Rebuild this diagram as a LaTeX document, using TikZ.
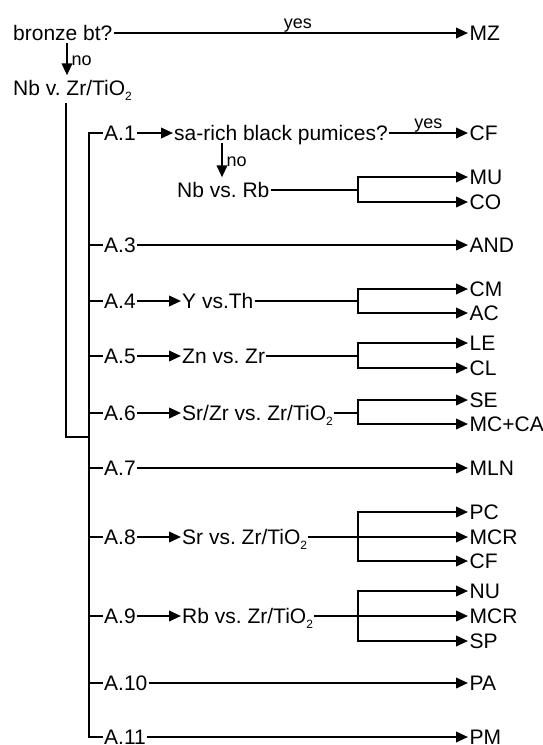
\documentclass[tikz,border=0pt]{standalone}
\usepackage{fontspec}
\setmainfont{Liberation Sans}
\usetikzlibrary{arrows.meta}
\newcommand{\lowtwo}{\raisebox{-0.45ex}{\fontsize{12}{12}\selectfont 2}}

\begin{document}
\begin{tikzpicture}[
  x=1pt,y=-1pt,
  txt/.style={anchor=west, inner sep=1pt, text height=15pt, text depth=0pt, font=\fontsize{21}{25}\selectfont\frenchspacing},
  res/.style={txt, inner sep=1.5pt},
  lbl/.style={font=\fontsize{18}{21}\selectfont, inner sep=3.5pt, text height=9.5pt, text depth=0pt},
  ln/.style={line width=2.2pt},
  arr/.style={-{Triangle[length=12pt,width=10.5pt]}, line width=2.2pt}
]
\useasboundingbox (0,0) rectangle (543,745);
% first questions
\node[txt] (bronze) at (12,33) {bronze bt?};
\node[res] (mz) at (468,33) {MZ};
\node[txt] (nbzr) at (12,88) {Nb v. Zr/TiO\lowtwo};
% groups
\node[txt] (a1) at (103,133) {A.1};
\node[txt] (sarich) at (173,133) {sa-rich black pumices?};
\node[res] (cf1) at (468,133) {CF};
\node[txt] (nbrb) at (176,190) {Nb vs. Rb};
\node[res] (mu) at (468,177) {MU};
\node[res] (co) at (468,202) {CO};
\node[txt] (a3) at (103,245) {A.3};
\node[res] (and) at (468,245) {AND};
\node[txt] (a4) at (103,301) {A.4};
\node[txt] (yth) at (181,301) {Y vs.Th};
\node[res] (cm) at (468,289) {CM};
\node[res] (ac) at (468,313) {AC};
\node[txt] (a5) at (103,356) {A.5};
\node[txt] (znzr) at (181,356) {Zn vs. Zr};
\node[res] (le) at (468,343) {LE};
\node[res] (cl) at (468,368) {CL};
\node[txt] (a6) at (103,413) {A.6};
\node[txt] (srzr) at (181,413) {Sr/Zr vs. Zr/TiO\lowtwo};
\node[res] (se) at (468,400) {SE};
\node[res] (mcca) at (468,424) {MC+CA};
\node[txt] (a7) at (103,468) {A.7};
\node[res] (mln) at (468,468) {MLN};
\node[txt] (a8) at (103,537) {A.8};
\node[txt] (srtio) at (181,537) {Sr vs. Zr/TiO\lowtwo};
\node[res] (pc) at (468,512) {PC};
\node[res] (mcr1) at (468,537) {MCR};
\node[res] (cf2) at (468,561) {CF};
\node[txt] (a9) at (103,616) {A.9};
\node[txt] (rbtio) at (181,616) {Rb vs. Zr/TiO\lowtwo};
\node[res] (nu) at (468,591) {NU};
\node[res] (mcr2) at (468,616) {MCR};
\node[res] (sp) at (468,641) {SP};
\node[txt] (a10) at (103,683) {A.10};
\node[res] (pa) at (468,683) {PA};
\node[txt] (a11) at (103,737) {A.11};
\node[res] (pm) at (468,737) {PM};
% helper points
\coordinate (dn1) at (67,0); \coordinate (dn2) at (222,0);
\coordinate (n0) at (66,103); \coordinate (j1) at (89,437);
\coordinate (tr) at (89,0); \coordinate (kx) at (358,0);
% connectors
\draw[arr] (bronze) -- node[lbl, above, pos=0.52] {yes} (mz);
\draw[arr, shorten <=1pt, shorten >=4pt] (bronze.south -| dn1) -- node[lbl, right] {no} (nbzr.north -| dn1);
\draw[ln] (n0) |- (j1);
\draw[ln] (a1.west) -- (a1.west -| tr) |- (a11.west);
\draw[ln] (a3.west -| tr) -- (a3.west); \draw[ln] (a4.west -| tr) -- (a4.west); \draw[ln] (a5.west -| tr) -- (a5.west);
\draw[ln] (a6.west -| tr) -- (a6.west); \draw[ln] (a7.west -| tr) -- (a7.west); \draw[ln] (a8.west -| tr) -- (a8.west);
\draw[ln] (a9.west -| tr) -- (a9.west); \draw[ln] (a10.west -| tr) -- (a10.west);
\draw[arr] (a1) -- (sarich); \draw[arr] (sarich) -- node[lbl, above] {yes} (cf1);
\draw[arr, shorten <=1pt, shorten >=4pt] (sarich.south -| dn2) -- node[lbl, right] {no} (nbrb.north -| dn2);
\draw[ln] (nbrb) -- (nbrb -| kx); \draw[arr] (nbrb -| kx) |- (mu.west); \draw[arr] (nbrb -| kx) |- (co.west);
\draw[arr] (a3) -- (and);
\draw[arr] (a4) -- (yth); \draw[ln] (yth) -- (yth -| kx); \draw[arr] (yth -| kx) |- (cm.west); \draw[arr] (yth -| kx) |- (ac.west);
\draw[arr] (a5) -- (znzr); \draw[ln] (znzr) -- (znzr -| kx); \draw[arr] (znzr -| kx) |- (le.west); \draw[arr] (znzr -| kx) |- (cl.west);
\draw[arr] (a6) -- (srzr); \draw[ln] (srzr) -- (srzr -| kx); \draw[arr] (srzr -| kx) |- (se.west); \draw[arr] (srzr -| kx) |- (mcca.west);
\draw[arr] (a7) -- (mln);
\draw[arr] (a8) -- (srtio); \draw[arr] (srtio) -- (mcr1); \draw[arr] (srtio -| kx) |- (pc.west); \draw[arr] (srtio -| kx) |- (cf2.west);
\draw[arr] (a9) -- (rbtio); \draw[arr] (rbtio) -- (mcr2); \draw[arr] (rbtio -| kx) |- (nu.west); \draw[arr] (rbtio -| kx) |- (sp.west);
\draw[arr] (a10) -- (pa);
\draw[arr] (a11) -- (pm);
\end{tikzpicture}
\end{document}
